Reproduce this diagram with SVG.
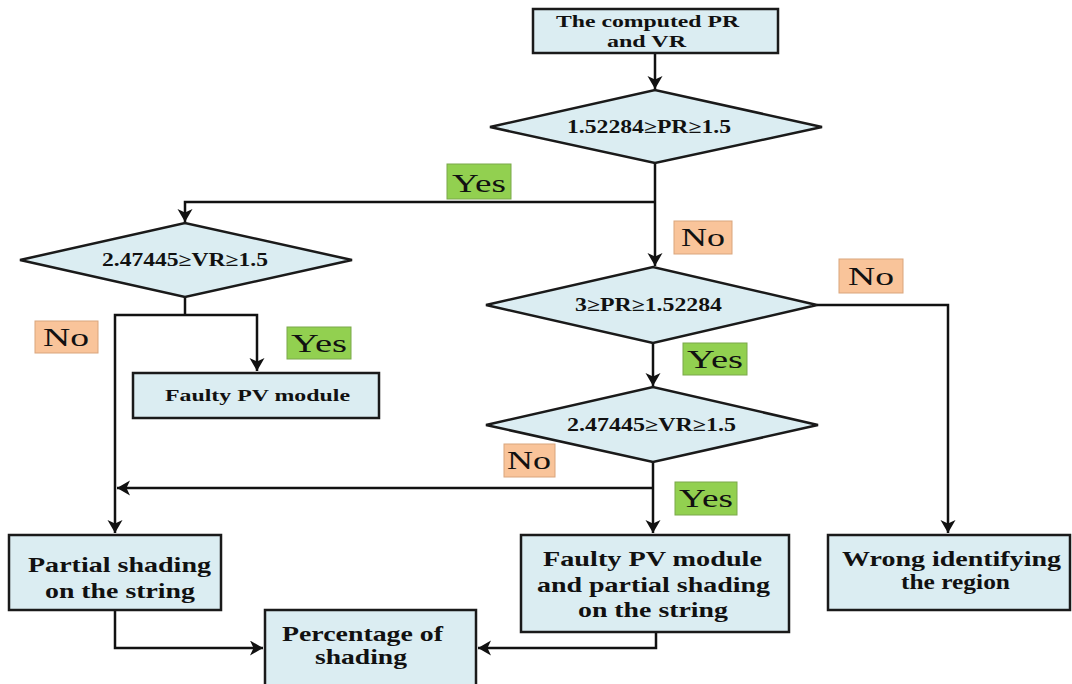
<svg xmlns="http://www.w3.org/2000/svg" width="1072" height="684" viewBox="0 0 1072 684">
  <defs>
    <style>
      .box { fill: #DBEDF2; stroke: #1a1a1a; stroke-width: 2.5; }
      .dia { fill: #DBEDF2; stroke: #1a1a1a; stroke-width: 2.5; stroke-linejoin: miter; }
      .node-t { font-family: "Liberation Serif", "Times New Roman", serif; font-weight: bold; fill: #111; }
      .lab-t { font-family: "Liberation Serif", "Times New Roman", serif; font-size: 25px; fill: #111; text-anchor: middle; }
      .yes { fill: #92D050; stroke: #7aa84a; stroke-width: 1; }
      .no { fill: #F9C49A; stroke: #d9a57c; stroke-width: 1; }
      .conn { fill: none; stroke: #111; stroke-width: 2.5; }
    </style>
    <marker id="arrow" markerUnits="userSpaceOnUse" markerWidth="16" markerHeight="16" refX="13" refY="7.5" orient="auto">
      <path d="M0,0 L13,7.5 L0,15 L3.5,7.5 Z" fill="#111"/>
    </marker>
  </defs>

  <rect width="1072" height="684" fill="#ffffff"/>

  <!-- connectors -->
  <g id="connectors">
    <path class="conn" d="M655,53 V89" marker-end="url(#arrow)"/>
    <path class="conn" d="M655,163 V266" marker-end="url(#arrow)"/>
    <path class="conn" d="M655,202 H185 V222" marker-end="url(#arrow)"/>
    <path class="conn" d="M185,297 V315"/>
    <path class="conn" d="M185,315 H257 V371" marker-end="url(#arrow)"/>
    <path class="conn" d="M185,315 H115 V533" marker-end="url(#arrow)"/>
    <path class="conn" d="M817,305 H948 V533" marker-end="url(#arrow)"/>
    <path class="conn" d="M653,343 V386" marker-end="url(#arrow)"/>
    <path class="conn" d="M653,462 V533" marker-end="url(#arrow)"/>
    <path class="conn" d="M653,488 H117" marker-end="url(#arrow)"/>
    <path class="conn" d="M115,610 V648 H263" marker-end="url(#arrow)"/>
    <path class="conn" d="M656,632 V648 H478" marker-end="url(#arrow)"/>
  </g>

  <!-- start -->
  <g id="n-start">
    <rect class="box" x="533" y="9" width="245" height="44"/>
    <text class="node-t" font-size="17" x="556" y="27" textLength="183" lengthAdjust="spacingAndGlyphs">The computed PR</text>
    <text class="node-t" font-size="17" x="607" y="47" textLength="79" lengthAdjust="spacingAndGlyphs">and VR</text>
  </g>

  <!-- decision: PR band 1 -->
  <g id="d-pr1">
    <polygon class="dia" points="490,127 655,90 822,127 655,163"/>
    <text class="node-t" font-size="18" x="567" y="133" textLength="164" lengthAdjust="spacingAndGlyphs">1.52284≥PR≥1.5</text>
  </g>

  <!-- decision: VR band (left) -->
  <g id="d-vr1">
    <polygon class="dia" points="20,260 185,223 352,260 185,297"/>
    <text class="node-t" font-size="18" x="102" y="266" textLength="166" lengthAdjust="spacingAndGlyphs">2.47445≥VR≥1.5</text>
  </g>

  <!-- decision: PR band 2 -->
  <g id="d-pr2">
    <polygon class="dia" points="486,305 653,267 817,305 653,343"/>
    <text class="node-t" font-size="18" x="575" y="311" textLength="147" lengthAdjust="spacingAndGlyphs">3≥PR≥1.52284</text>
  </g>

  <!-- decision: VR band (right) -->
  <g id="d-vr2">
    <polygon class="dia" points="486,425 653,387 818,425 653,462"/>
    <text class="node-t" font-size="18" x="567" y="431" textLength="169" lengthAdjust="spacingAndGlyphs">2.47445≥VR≥1.5</text>
  </g>

  <!-- result: faulty module -->
  <g id="n-faulty">
    <rect class="box" x="133" y="373" width="246" height="45"/>
    <text class="node-t" font-size="17" x="165" y="401" textLength="185" lengthAdjust="spacingAndGlyphs">Faulty PV module</text>
  </g>

  <!-- result: partial shading -->
  <g id="n-shading">
    <rect class="box" x="9" y="535" width="212" height="75"/>
    <text class="node-t" font-size="21" x="28" y="572" textLength="183" lengthAdjust="spacingAndGlyphs">Partial shading</text>
    <text class="node-t" font-size="21" x="45" y="598" textLength="150" lengthAdjust="spacingAndGlyphs">on the string</text>
  </g>

  <!-- result: faulty module and partial shading -->
  <g id="n-both">
    <rect class="box" x="521" y="535" width="268" height="97"/>
    <text class="node-t" font-size="21" x="543" y="566" textLength="219" lengthAdjust="spacingAndGlyphs">Faulty PV module</text>
    <text class="node-t" font-size="21" x="537" y="592" textLength="233" lengthAdjust="spacingAndGlyphs">and partial shading</text>
    <text class="node-t" font-size="21" x="578" y="617" textLength="150" lengthAdjust="spacingAndGlyphs">on the string</text>
  </g>

  <!-- result: wrong region -->
  <g id="n-wrong">
    <rect class="box" x="828" y="535" width="242" height="75"/>
    <text class="node-t" font-size="21" x="842" y="566" textLength="219" lengthAdjust="spacingAndGlyphs">Wrong identifying</text>
    <text class="node-t" font-size="21" x="901" y="589" textLength="109" lengthAdjust="spacingAndGlyphs">the region</text>
  </g>

  <!-- output: percentage of shading -->
  <g id="n-percent">
    <rect class="box" x="265" y="610" width="211" height="80"/>
    <text class="node-t" font-size="21" x="282" y="641" textLength="161" lengthAdjust="spacingAndGlyphs">Percentage of</text>
    <text class="node-t" font-size="21" x="315" y="664" textLength="92" lengthAdjust="spacingAndGlyphs">shading</text>
  </g>

  <!-- branch labels -->
  <g id="labels">
    <rect class="yes" x="447" y="164" width="64" height="35"/>
    <text class="lab-t" x="479" y="192" textLength="54" lengthAdjust="spacingAndGlyphs">Yes</text>

    <rect class="no" x="674" y="221" width="58" height="33"/>
    <text class="lab-t" x="703" y="246" textLength="44" lengthAdjust="spacingAndGlyphs">No</text>

    <rect class="no" x="839" y="259" width="64" height="34"/>
    <text class="lab-t" x="871" y="285" textLength="46" lengthAdjust="spacingAndGlyphs">No</text>

    <rect class="yes" x="683" y="343" width="64" height="32"/>
    <text class="lab-t" x="715" y="368" textLength="56" lengthAdjust="spacingAndGlyphs">Yes</text>

    <rect class="no" x="504" y="444" width="51" height="33"/>
    <text class="lab-t" x="529" y="469" textLength="44" lengthAdjust="spacingAndGlyphs">No</text>

    <rect class="yes" x="675" y="482" width="62" height="33"/>
    <text class="lab-t" x="706" y="507" textLength="54" lengthAdjust="spacingAndGlyphs">Yes</text>

    <rect class="no" x="35" y="321" width="63" height="32"/>
    <text class="lab-t" x="66" y="346" textLength="46" lengthAdjust="spacingAndGlyphs">No</text>

    <rect class="yes" x="287" y="327" width="64" height="32"/>
    <text class="lab-t" x="319" y="352" textLength="56" lengthAdjust="spacingAndGlyphs">Yes</text>
  </g>
</svg>
